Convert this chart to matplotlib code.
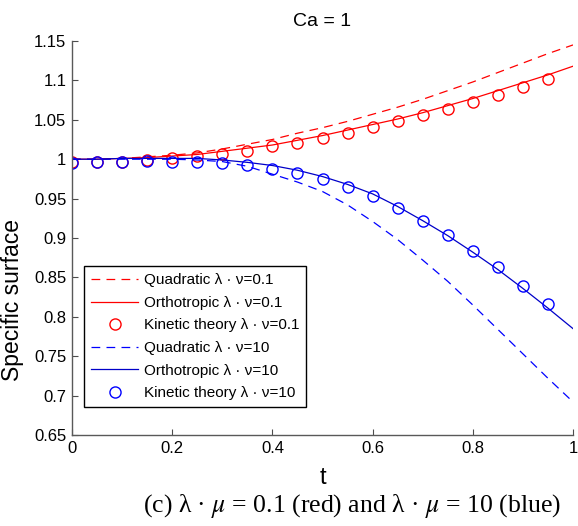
import matplotlib
matplotlib.use('Agg')
from matplotlib import pyplot as plt

# t samples for the model curves and for the kinetic theory points
t_curve = [0.0, 0.05, 0.1, 0.15, 0.2, 0.25, 0.3, 0.35, 0.4, 0.45, 0.5,
           0.55, 0.6, 0.65, 0.7, 0.75, 0.8, 0.85, 0.9, 0.95, 1.0]
t_kin = [0.0, 0.05, 0.1, 0.15, 0.2, 0.25, 0.3, 0.35, 0.4, 0.45,
         0.5, 0.55, 0.6, 0.65, 0.7, 0.75, 0.8, 0.85, 0.9, 0.95]

# lambda*nu = 0.1 (red)
quad_01 = [1.000, 1.000, 1.001, 1.003, 1.005, 1.008, 1.013, 1.019, 1.025, 1.033, 1.040,
           1.048, 1.057, 1.066, 1.076, 1.087, 1.098, 1.110, 1.122, 1.134, 1.145]
ortho_01 = [1.000, 1.000, 1.001, 1.002, 1.004, 1.006, 1.010, 1.014, 1.018, 1.024, 1.030,
            1.037, 1.044, 1.051, 1.059, 1.068, 1.077, 1.087, 1.097, 1.107, 1.118]
kin_01 = [0.996, 0.9965, 0.997, 0.9985, 1.001, 1.004, 1.007, 1.011, 1.0165, 1.021,
          1.0275, 1.0334, 1.0405, 1.048, 1.0557, 1.0637, 1.073, 1.0818, 1.0915, 1.1016]

# lambda*nu = 10 (blue)
quad_10 = [1.000, 1.000, 1.000, 1.000, 1.000, 0.999, 0.997, 0.991, 0.981, 0.971, 0.959,
           0.942, 0.921, 0.898, 0.872, 0.845, 0.815, 0.784, 0.753, 0.722, 0.692]
ortho_10 = [1.000, 1.000, 1.001, 1.001, 1.001, 1.001, 0.999, 0.996, 0.992, 0.986, 0.978,
            0.968, 0.956, 0.940, 0.922, 0.903, 0.882, 0.860, 0.836, 0.811, 0.785]
kin_10 = [0.9957, 0.9964, 0.997, 0.9976, 0.997, 0.9964, 0.9957, 0.9926, 0.988, 0.9828,
          0.9745, 0.9652, 0.953, 0.938, 0.9215, 0.9038, 0.884, 0.8626, 0.8394, 0.8158]

xticks = [0, 0.2, 0.4, 0.6, 0.8, 1]
xticklabels = ['0', '0.2', '0.4', '0.6', '0.8', '1']
yticks = [0.65, 0.7, 0.75, 0.8, 0.85, 0.9, 0.95, 1.0, 1.05, 1.1, 1.15]
yticklabels = ['0.65', '0.7', '0.75', '0.8', '0.85', '0.9', '0.95', '1', '1.05', '1.1', '1.15']

plt.rcParams['font.family'] = ['Liberation Sans', 'DejaVu Sans']
plt.rcParams['mathtext.fontset'] = 'stix'

fig = plt.figure(figsize=(5.78, 5.26), dpi=100)
ax = fig.add_axes([72 / 578, 91 / 526, 501 / 578, 394 / 526])

dash = (7, 5)
lw = 0.9
ax.plot(t_curve, quad_01, color='red', lw=lw, dashes=dash, label='Quadratic λ · ν=0.1')
ax.plot(t_curve, ortho_01, color='red', lw=lw, label='Orthotropic λ · ν=0.1')
ax.plot(t_kin, kin_01, 'o', color='red', mfc='none', mew=1.0, ms=8,
        label='Kinetic theory λ · ν=0.1')
ax.plot(t_curve, quad_10, color='blue', lw=lw, dashes=dash, label='Quadratic λ · ν=10')
ax.plot(t_curve, ortho_10, color='#0000c8', lw=lw, label='Orthotropic λ · ν=10')
ax.plot(t_kin, kin_10, 'o', color='blue', mfc='none', mew=1.0, ms=8,
        label='Kinetic theory λ · ν=10')

ax.set_xlim(0, 1)
ax.set_ylim(0.65, 1.15)
ax.set_xticks(xticks)
ax.set_xticklabels(xticklabels)
ax.set_yticks(yticks)
ax.set_yticklabels(yticklabels)
ax.tick_params(direction='in', length=4, width=0.8, color='0.3', labelsize=12,
               top=False, right=False, pad=4)
for side in ['top', 'right']:
    ax.spines[side].set_visible(False)
for side in ['left', 'bottom']:
    ax.spines[side].set_color('0.35')
    ax.spines[side].set_linewidth(1.0)

ax.set_xlabel('t', fontsize=17)
ax.xaxis.set_label_coords(0.5, -0.082)
ax.set_ylabel('Specific surface', fontsize=16.5)
ax.yaxis.set_label_coords(-0.096, 0.343)
ax.set_title('Ca = 1', fontsize=14, pad=11)

leg = ax.legend(loc='lower left', bbox_to_anchor=(12 / 501, 28 / 394), borderaxespad=0,
                fontsize=11, handlelength=3.1, handletextpad=0.35, labelspacing=0.56,
                borderpad=0.45, fancybox=False, framealpha=1, edgecolor='black')
leg.get_frame().set_linewidth(1.0)

fig.text(352 / 578, 20 / 526, r'(c) λ · $\mu$ = 0.1 (red) and λ · $\mu$ = 10 (blue)',
         ha='center', va='center', fontsize=18.5, family='Liberation Serif')

fig.savefig('out.png', dpi=100)
